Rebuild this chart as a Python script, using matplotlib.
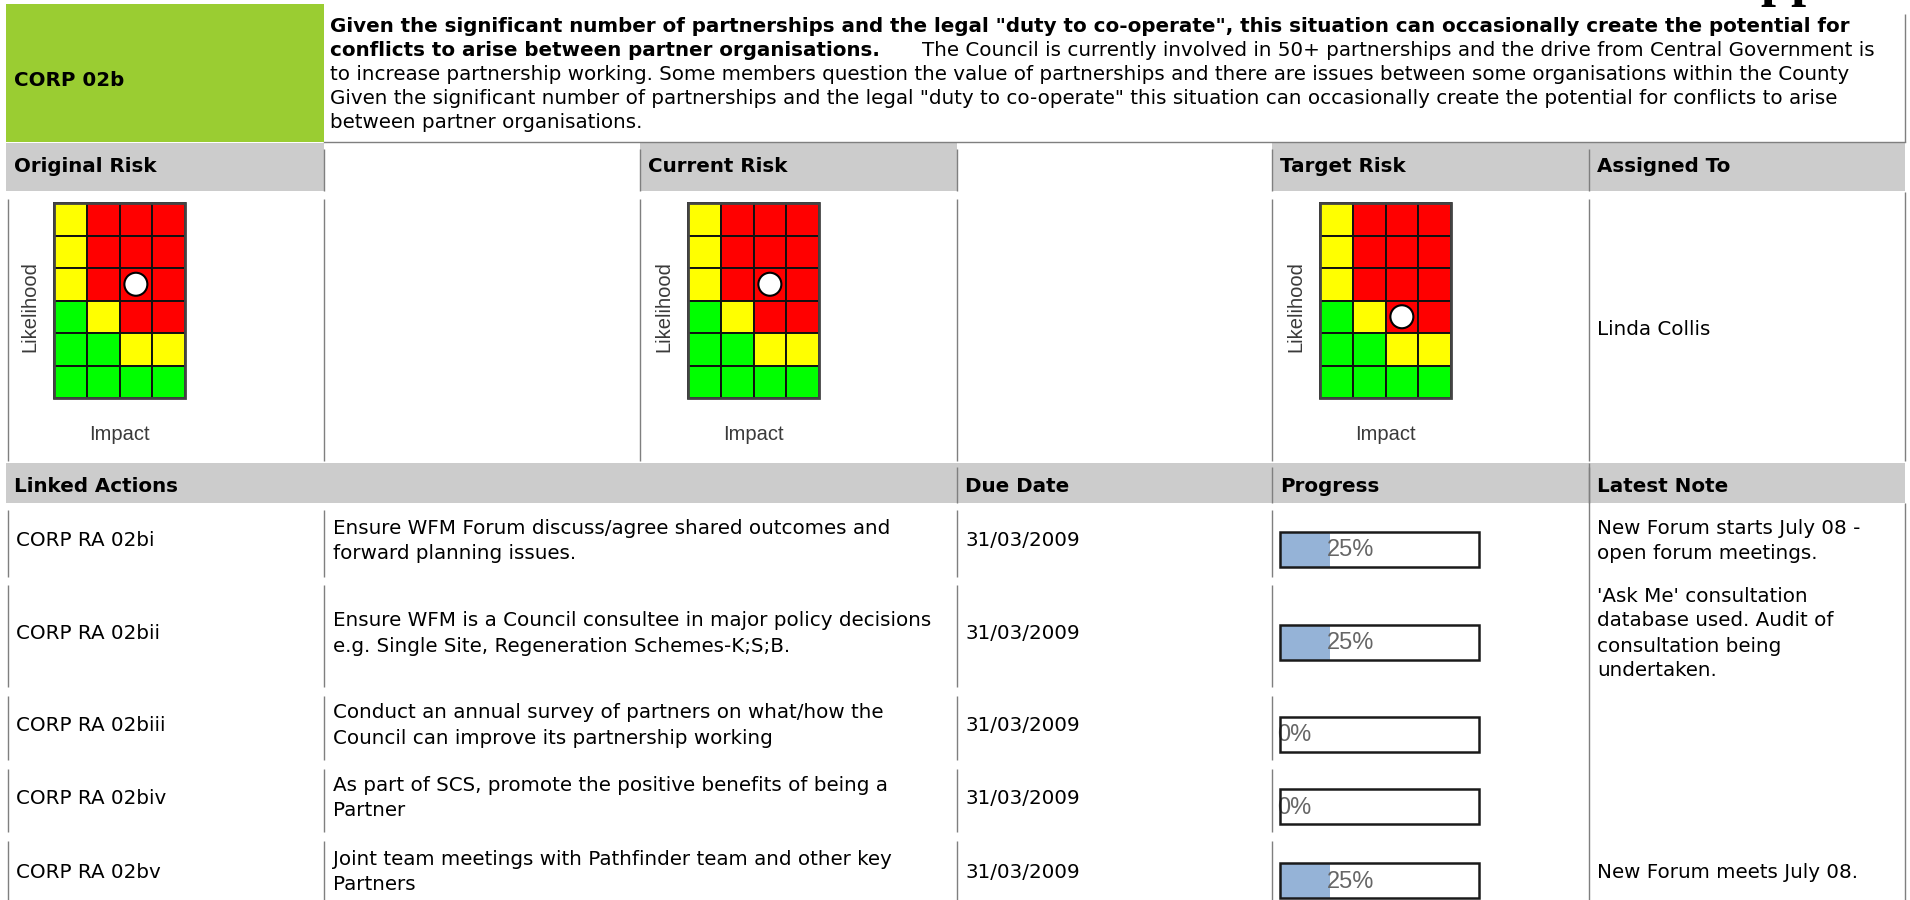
import matplotlib
matplotlib.use("Agg")
import matplotlib.pyplot as plt
from matplotlib.patches import Rectangle, Circle

# ---- data ----
risk_id = "CORP 02b"
desc_bold = ['Given the significant number of partnerships and the legal "duty to co-operate", '
             'this situation can occasionally create the potential for',
             'conflicts to arise between partner organisations.']
desc_plain = ['The Council is currently involved in 50+ partnerships and the drive from Central Government is',
              'to increase partnership working. Some members question the value of partnerships and there '
              'are issues between some organisations within the County',
              'Given the significant number of partnerships and the legal "duty to co-operate" this situation '
              'can occasionally create the potential for conflicts to arise',
              'between partner organisations.']

risk_titles = ["Original Risk", "Current Risk", "Target Risk"]
risk_impact = [3, 3, 3]
risk_likelihood = [4, 4, 3]
# rows from likelihood 6 (top) down to 1, columns impact 1..4
risk_matrix = ["YRRR", "YRRR", "YRRR", "GYRR", "GGYY", "GGGG"]
assigned_to = "Linda Collis"

action_ids = ["CORP RA 02bi", "CORP RA 02bii", "CORP RA 02biii", "CORP RA 02biv", "CORP RA 02bv"]
action_desc = [["Ensure WFM Forum discuss/agree shared outcomes and", "forward planning issues."],
               ["Ensure WFM is a Council consultee in major policy decisions",
                "e.g. Single Site, Regeneration Schemes-K;S;B."],
               ["Conduct an annual survey of partners on what/how the",
                "Council can improve its partnership working"],
               ["As part of SCS, promote the positive benefits of being a", "Partner"],
               ["Joint team meetings with Pathfinder team and other key", "Partners"]]
due_dates = ["31/03/2009", "31/03/2009", "31/03/2009", "31/03/2009", "31/03/2009"]
progress = [25, 25, 0, 0, 25]
notes = [["New Forum starts July 08 -", "open forum meetings."],
         ["'Ask Me' consultation", "database used. Audit of", "consultation being", "undertaken."],
         [], [],
         ["New Forum meets July 08."]]

# ---- layout ----
W, H = 1910, 900
fig = plt.figure(figsize=(W / 100, H / 100), dpi=100)
ax = fig.add_axes([0, 0, 1, 1])
ax.set_xlim(0, W)
ax.set_ylim(H, 0)
ax.axis("off")

cols = [6, 324, 640, 957, 1272, 1589, 1905]
GREY = "#cccccc"
LINE = "#7f7f7f"
GREEN = "#9acd32"
FS = 14.3
BODY = "DejaVu Sans"
ARIAL = "Liberation Sans"
cmap = {"Y": "#ffff00", "R": "#ff0000", "G": "#00ff00"}


def txt(x, yc, s, bold=False, **kw):
    return ax.text(x, yc + 7, s, fontsize=FS, family=BODY, va="baseline",
                   fontweight="bold" if bold else "normal", color="black", **kw)


def vline(x, y0, y1):
    ax.plot([x, x], [y0, y1], color=LINE, lw=1, solid_capstyle="butt")


# top row: id + description
ax.add_patch(Rectangle((cols[0], 4), cols[1] - cols[0], 138, color=GREEN, lw=0))
txt(14, 79, risk_id, bold=True)
line_y = [25, 49, 73, 97, 121]
txt(330, line_y[0], desc_bold[0], bold=True)
t = txt(330, line_y[1], desc_bold[1], bold=True)
fig.canvas.draw()
x_end = t.get_window_extent(renderer=fig.canvas.get_renderer()).x1
txt(x_end + 42, line_y[1], desc_plain[0])
for y, s in zip(line_y[2:], desc_plain[1:]):
    txt(330, y, s)
ax.plot([cols[1], cols[6]], [142, 142], color=LINE, lw=1)
vline(cols[6], 14, 142)
ax.text(1722, -5, "Appendix", fontsize=39, family="Liberation Serif", fontweight="bold",
        va="baseline", color="black")

# header row 1
h1_top, h1_bot = 143, 191
headers1 = [risk_titles[0], None, risk_titles[1], None, risk_titles[2], "Assigned To"]
for i, h in enumerate(headers1):
    if h is not None:
        ax.add_patch(Rectangle((cols[i], h1_top), cols[i + 1] - cols[i], h1_bot - h1_top,
                               color=GREY, lw=0))
        txt(cols[i] + 8, 165, h, bold=True)
    if i > 0:
        vline(cols[i], 149, h1_bot)

# risk matrix row
r_top, r_bot = 192, 461
for x in [8] + cols[1:6]:
    vline(x, 199, r_bot)
vline(cols[6], r_top, r_bot)

cw, ch = 32.75, 32.5
g_top = 203
for k, ci in enumerate([0, 2, 4]):
    gx = cols[ci] + 48
    for r, rowstr in enumerate(risk_matrix):
        for c, code in enumerate(rowstr):
            ax.add_patch(Rectangle((gx + c * cw, g_top + r * ch), cw, ch,
                                   facecolor=cmap[code], edgecolor="#111111", lw=1.4))
    ax.add_patch(Rectangle((gx, g_top), 4 * cw, 6 * ch, fill=False, edgecolor="#444444", lw=2))
    n_rows = len(risk_matrix)
    mx = gx + (risk_impact[k] - 0.5) * cw
    my = g_top + (n_rows - risk_likelihood[k] + 0.5) * ch
    ax.add_patch(Circle((mx, my), 11.5, facecolor="white", edgecolor="black", lw=1.5, zorder=5))
    ax.text(gx - 24, g_top + 3 * ch + 6, "Likelihood", rotation=90, fontsize=14.5, family=ARIAL,
            color="#3a3a3a", ha="center", va="center")
    ax.text(gx + 2 * cw, 435, "Impact", fontsize=14.5, family=ARIAL, color="#3a3a3a",
            ha="center", va="center")
txt(cols[5] + 8, 328, assigned_to)

# header row 2
h2_top, h2_bot = 463, 503
ax.add_patch(Rectangle((cols[0], h2_top), cols[6] - cols[0], h2_bot - h2_top, color=GREY, lw=0))
for i, h in zip([0, 3, 4, 5], ["Linked Actions", "Due Date", "Progress", "Latest Note"]):
    txt(cols[i] + 8, 485, h, bold=True)
    if i > 0:
        vline(cols[i], 467, h2_bot)

# action rows
row_tops = [504, 579, 690, 763, 835]
row_hts = [75, 110, 72, 71, 75]
bar_x, bar_w, bar_h = 1280, 199, 35
for j in range(len(action_ids)):
    top = row_tops[j]
    bot = top + row_hts[j]
    yc = top + row_hts[j] / 2 - 2
    for x in [8, cols[1], cols[3], cols[4]]:
        vline(x, top + 6, bot - 2)
    txt(cols[0] + 10, yc, action_ids[j])
    n = len(action_desc[j])
    for m, s in enumerate(action_desc[j]):
        txt(cols[1] + 9, yc + (m - (n - 1) / 2) * 25, s)
    txt(cols[3] + 8, yc, due_dates[j])
    n = len(notes[j])
    for m, s in enumerate(notes[j]):
        txt(cols[5] + 8, yc + (m - (n - 1) / 2) * 25, s)
    # progress bar
    by = yc + 10 - bar_h / 2
    fill_w = bar_w * progress[j] / 100
    if fill_w > 0:
        ax.add_patch(Rectangle((bar_x, by), fill_w, bar_h, color="#95b3d7", lw=0, zorder=2))
    box = Rectangle((bar_x, by), bar_w, bar_h, fill=False, edgecolor="#1a1a1a", lw=1.8, zorder=4)
    ax.add_patch(box)
    pt = ax.text(bar_x + fill_w - 3, by + bar_h / 2 + 1, f"{progress[j]}%", fontsize=17,
                 family=ARIAL, color="#666666", va="center", ha="left", zorder=3)
    pt.set_clip_path(Rectangle((bar_x, by), bar_w, bar_h, transform=ax.transData))
vline(cols[5], h2_top, H)
vline(cols[6], h2_bot, H)

fig.savefig("out.png", dpi=100, facecolor="white")
